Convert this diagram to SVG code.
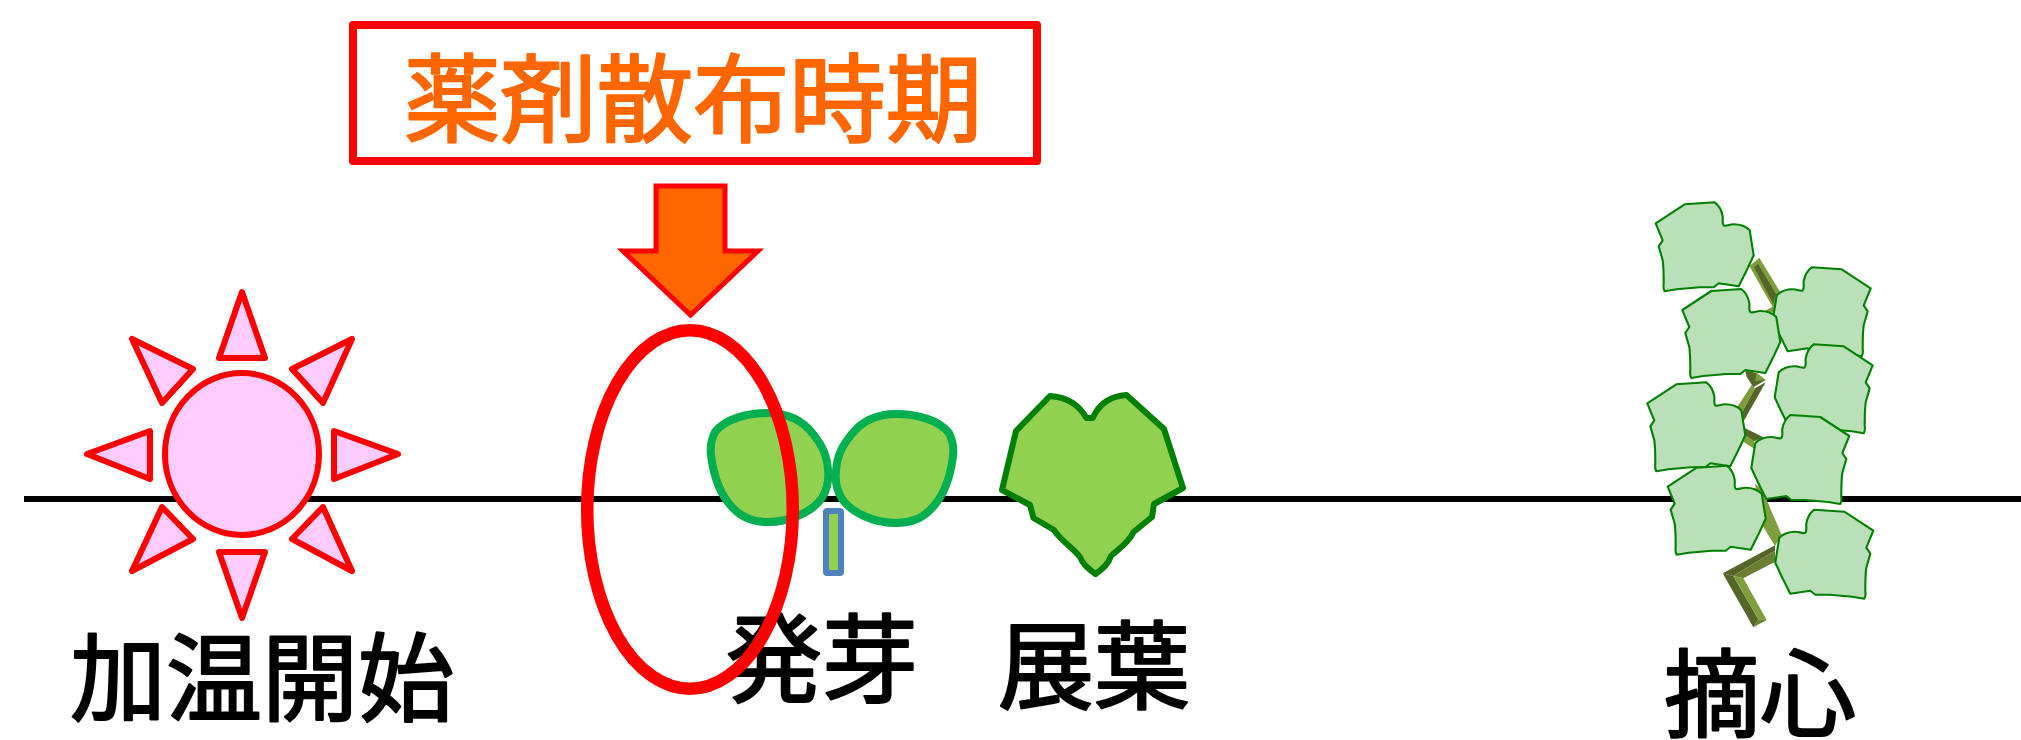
<svg xmlns="http://www.w3.org/2000/svg" xmlns:xlink="http://www.w3.org/1999/xlink" width="2021" height="740" viewBox="0 0 2021 740">
<style>
text{font-family:"Noto Sans CJK JP","Noto Sans CJK SC",sans-serif;font-size:96px;fill:#000;stroke:#000;stroke-width:2.2px;stroke-linejoin:round;stroke-linecap:round}
.o{fill:#FF6600;stroke:#FF6600}
.ray{fill:#FFCCFF;stroke:#FF0000;stroke-width:6;stroke-linejoin:round}
.sl{fill:#92D050;stroke:#00B050;stroke-width:8}
.pl{fill:#B9E0B7;stroke:#008000;stroke-width:2.1;stroke-linejoin:round}
.a{fill:#7F9E3E}.d{fill:#55662B}.m{fill:#6B7F33}
</style>
<defs>
<path id="lf" d="M0 0L29 -19L59 -21C63 -18 66 -13 67 -7C67.500 -4 66 0 68 2C70 3.500 73 1 78 1C84 1 90 3 94 7L98 32L91 47L83 63L63 60L58 64L44 64L21 66L9 68C7 65 8 62 8 60C8 50 8 44 7 37L3 23L7 17Z"/>
</defs>
<g id="connectors">
<line id="timeline" x1="24" y1="499" x2="2021" y2="499" stroke="#000" stroke-width="6"/>
</g>
<g id="label-box">
<rect x="353" y="25" width="684" height="136" fill="#fff" stroke="#FF0000" stroke-width="8" stroke-linejoin="round"/>
<text class="o" x="404" y="134" textLength="578" lengthAdjust="spacingAndGlyphs">薬剤散布時期</text>
</g>
<g id="spray-arrow">
<path d="M656 186H725V251H758L690.500 315L623 251H656Z" fill="#FF6600" stroke="#FF0000" stroke-width="5"/>
</g>
<g id="heating-start">
<ellipse cx="242" cy="454" rx="77" ry="81" class="ray"/>
<path class="ray" d="M242 292L265 358H219Z"/>
<path class="ray" d="M352 339L323 403L292 369Z"/>
<path class="ray" d="M398 454L334 431V479Z"/>
<path class="ray" d="M352 571L323 507L292 539Z"/>
<path class="ray" d="M242 618L265 552H219Z"/>
<path class="ray" d="M132 571L162 507L193 539Z"/>
<path class="ray" d="M87 454L150 431V479Z"/>
<path class="ray" d="M132 339L162 403L193 369Z"/>
<text x="70" y="713">加温開始</text>
</g>
<g id="budding">
<rect x="826" y="511" width="15" height="62" rx="1" fill="#92D050" stroke="#4F81BD" stroke-width="6"/>
<path class="sl" d="M715 432C711 440 710 447 711 455C714 480 722 497 733 508C743 519 756 522 768 522C790 522 812 512 822 498C828 488 829 479 828 470C827 455 822 445 813 434C803 421 788 413 768 413C747 413 725 419 715 432Z"/>
<path class="sl" d="M949 433C953 441 954 448 953 456C950 481 942 498 931 509C921 520 908 523 896 523C874 523 852 513 842 499C836 489 835 480 836 471C837 456 842 446 851 435C861 422 876 414 896 414C917 414 939 420 949 433Z"/>
<text x="726" y="694">発芽</text>
</g>
<g id="leaf-unfolding">
<path d="M1050 396C1066 397 1079 405 1086.500 418H1092.700C1099 404 1110 396 1126.500 395L1164 429L1183 488L1154 504L1152 517L1133.500 532C1128 544 1118 549 1111 556C1108 565 1102 569 1095.500 574C1089 569 1083 565 1080 557C1072 547 1060 540 1054 530L1033.500 518L1030 505L1002 490L1016 431Z" fill="#92D050" stroke="#008000" stroke-width="6" stroke-linejoin="round"/>
<text x="998" y="701">展葉</text>
</g>
<g id="pinching">
<g transform="translate(1600 180) scale(.33333)">
<polygon class="a" points="448,258 478,233 540,335 520,385"/>
<polygon class="d" points="462,262 474,252 528,342 520,372"/>
<polygon class="a" points="495,392 522,378 525,400"/>
<polygon class="d" points="435,570 470,580 497,600 460,622 440,590"/>
<polygon class="a" points="470,578 497,600 465,603"/>
<polygon class="a" points="412,680 455,615 465,625 425,700"/>
<polygon class="d" points="465,625 497,607 430,725 425,700"/>
<polygon class="d" points="430,742 490,772 460,785 430,762"/>
<polygon class="a" points="430,762 460,780 465,808 430,785"/>
<polygon class="a" points="465,912 485,925 545,1065 525,1098 490,1040"/>
<polygon class="d" points="368,1180 525,1096 525,1112 400,1188"/>
<polygon class="m" points="400,1188 525,1112 525,1145 430,1195"/>
<polygon class="d" points="368,1180 400,1188 475,1318 460,1342"/>
<polygon class="a" points="400,1188 430,1195 500,1320 475,1318"/>
<polygon class="m" points="460,1342 475,1318 500,1320"/>
</g>
<use xlink:href="#lf" href="#lf" class="pl" transform="translate(1870.700 288.300) scale(-1 1)"/>
<use xlink:href="#lf" href="#lf" class="pl" transform="translate(1655.700 223.300)"/>
<use xlink:href="#lf" href="#lf" class="pl" transform="translate(1682.300 310)"/>
<use xlink:href="#lf" href="#lf" class="pl" transform="translate(1872.700 365.300) scale(-1 1)"/>
<use xlink:href="#lf" href="#lf" class="pl" transform="translate(1647.300 403.300)"/>
<use xlink:href="#lf" href="#lf" class="pl" transform="translate(1849.300 436) scale(-1 1)"/>
<use xlink:href="#lf" href="#lf" class="pl" transform="translate(1667.700 486.700)"/>
<use xlink:href="#lf" href="#lf" class="pl" transform="translate(1873.300 530.700) scale(-1 1)"/>
<text x="1664" y="729">摘心</text>
</g>
<g id="spray-window">
<ellipse cx="690" cy="509.500" rx="102.800" ry="179.300" fill="none" stroke="#FF0000" stroke-width="12.500"/>
</g>
</svg>
